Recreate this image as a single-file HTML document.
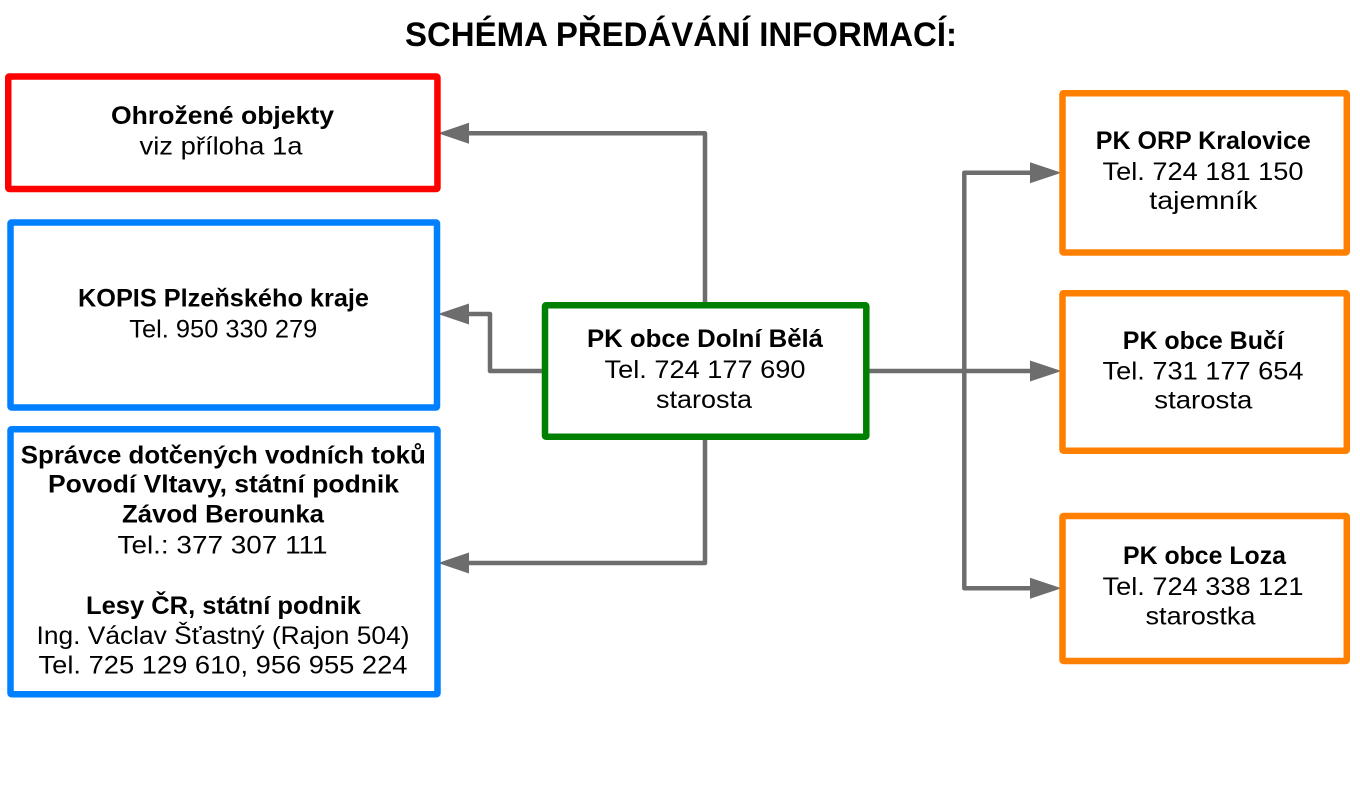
<!DOCTYPE html>
<html>
<head>
<meta charset="utf-8">
<style>
  html, body { margin: 0; padding: 0; background: #ffffff; }
  body { width: 1360px; height: 787px; overflow: hidden; }
  svg { display: block; }
  text { font-family: "Liberation Sans", "DejaVu Sans", sans-serif; fill: #000; }
  .b { font-weight: bold; }
</style>
</head>
<body>
<svg width="1360" height="787" viewBox="0 0 1360 787" xmlns="http://www.w3.org/2000/svg">
  <rect x="0" y="0" width="1360" height="787" fill="#ffffff"/>

  <!-- Title -->
  <text class="b" x="681" y="46" font-size="34" text-anchor="middle" textLength="552" lengthAdjust="spacingAndGlyphs">SCHÉMA PŘEDÁVÁNÍ INFORMACÍ:</text>

  <!-- Connectors -->
  <g fill="none" stroke="#6d6d6d" stroke-width="4.5" stroke-linejoin="round">
    <polyline points="705,303 705,133.3 466,133.3"/>
    <polyline points="543,371 490,371 490,314 466,314"/>
    <polyline points="705,440 705,563 466,563"/>
    <polyline points="869,371 1033,371"/>
    <polyline points="1033,172.7 964.3,172.7 964.3,588.3 1033,588.3"/>
  </g>
  <g fill="#6d6d6d">
    <polygon points="438,133.3 469,122.8 469,143.8"/>
    <polygon points="438,314 469,303.5 469,324.5"/>
    <polygon points="438,563 469,552.5 469,573.5"/>
    <polygon points="1061.5,172.7 1030,162.2 1030,183.2"/>
    <polygon points="1061.5,371 1030,360.5 1030,381.5"/>
    <polygon points="1061.5,588.3 1030,577.8 1030,598.8"/>
  </g>

  <!-- Boxes -->
  <g fill="#ffffff" stroke-width="6.5">
    <rect x="8.25" y="76.5" width="429.2" height="112.5" rx="1" stroke="#ff0000"/>
    <rect x="10.5" y="222.5" width="426.5" height="185" rx="1" stroke="#0080ff"/>
    <rect x="10.5" y="429.2" width="427" height="265" rx="1" stroke="#0080ff"/>
    <rect x="545" y="305.2" width="321.3" height="131.5" rx="1" stroke="#008000"/>
    <rect x="1062.5" y="93.2" width="284.3" height="159.3" rx="1" stroke="#ff8000"/>
    <rect x="1062.5" y="293.2" width="284.3" height="157.5" rx="1" stroke="#ff8000"/>
    <rect x="1062.5" y="516" width="284.3" height="145" rx="1" stroke="#ff8000"/>
  </g>

  <g font-size="25" text-anchor="middle">
    <!-- Red box -->
    <text class="b" x="222.5" y="124" textLength="223" lengthAdjust="spacingAndGlyphs">Ohrožené objekty</text>
    <text x="221" y="154.3" textLength="163" lengthAdjust="spacingAndGlyphs">viz příloha 1a</text>

    <!-- Blue box 1 -->
    <text class="b" x="223.5" y="306.7" textLength="291" lengthAdjust="spacingAndGlyphs">KOPIS Plzeňského kraje</text>
    <text x="223.3" y="337.7" textLength="188" lengthAdjust="spacingAndGlyphs">Tel. 950 330 279</text>

    <!-- Blue box 2 -->
    <text class="b" x="223.3" y="463.3" textLength="405" lengthAdjust="spacingAndGlyphs">Správce dotčených vodních toků</text>
    <text class="b" x="223.5" y="492.7" textLength="351" lengthAdjust="spacingAndGlyphs">Povodí Vltavy, státní podnik</text>
    <text class="b" x="223" y="522.7" textLength="202" lengthAdjust="spacingAndGlyphs">Závod Berounka</text>
    <text x="222.5" y="553.3" textLength="210" lengthAdjust="spacingAndGlyphs">Tel.: 377 307 111</text>
    <text class="b" x="223.5" y="614" textLength="275" lengthAdjust="spacingAndGlyphs">Lesy ČR, státní podnik</text>
    <text x="223" y="644" textLength="373" lengthAdjust="spacingAndGlyphs">Ing. Václav Šťastný (Rajon 504)</text>
    <text x="223" y="673.3" textLength="369" lengthAdjust="spacingAndGlyphs">Tel. 725 129 610, 956 955 224</text>

    <!-- Green box -->
    <text class="b" x="705" y="347" textLength="236" lengthAdjust="spacingAndGlyphs">PK obce Dolní Bělá</text>
    <text x="705" y="378" textLength="201" lengthAdjust="spacingAndGlyphs">Tel. 724 177 690</text>
    <text x="704" y="408" textLength="96" lengthAdjust="spacingAndGlyphs">starosta</text>

    <!-- Orange box 1 -->
    <text class="b" x="1203.3" y="149" textLength="215" lengthAdjust="spacingAndGlyphs">PK ORP Kralovice</text>
    <text x="1203" y="180" textLength="201" lengthAdjust="spacingAndGlyphs">Tel. 724 181 150</text>
    <text x="1203.3" y="209" textLength="108" lengthAdjust="spacingAndGlyphs">tajemník</text>

    <!-- Orange box 2 -->
    <text class="b" x="1203.3" y="349" textLength="161" lengthAdjust="spacingAndGlyphs">PK obce Bučí</text>
    <text x="1203" y="379.3" textLength="201" lengthAdjust="spacingAndGlyphs">Tel. 731 177 654</text>
    <text x="1203.3" y="408.3" textLength="98" lengthAdjust="spacingAndGlyphs">starosta</text>

    <!-- Orange box 3 -->
    <text class="b" x="1204.5" y="564" textLength="163" lengthAdjust="spacingAndGlyphs">PK obce Loza</text>
    <text x="1203" y="595" textLength="201" lengthAdjust="spacingAndGlyphs">Tel. 724 338 121</text>
    <text x="1200.5" y="624.3" textLength="110" lengthAdjust="spacingAndGlyphs">starostka</text>
  </g>
</svg>
</body>
</html>
